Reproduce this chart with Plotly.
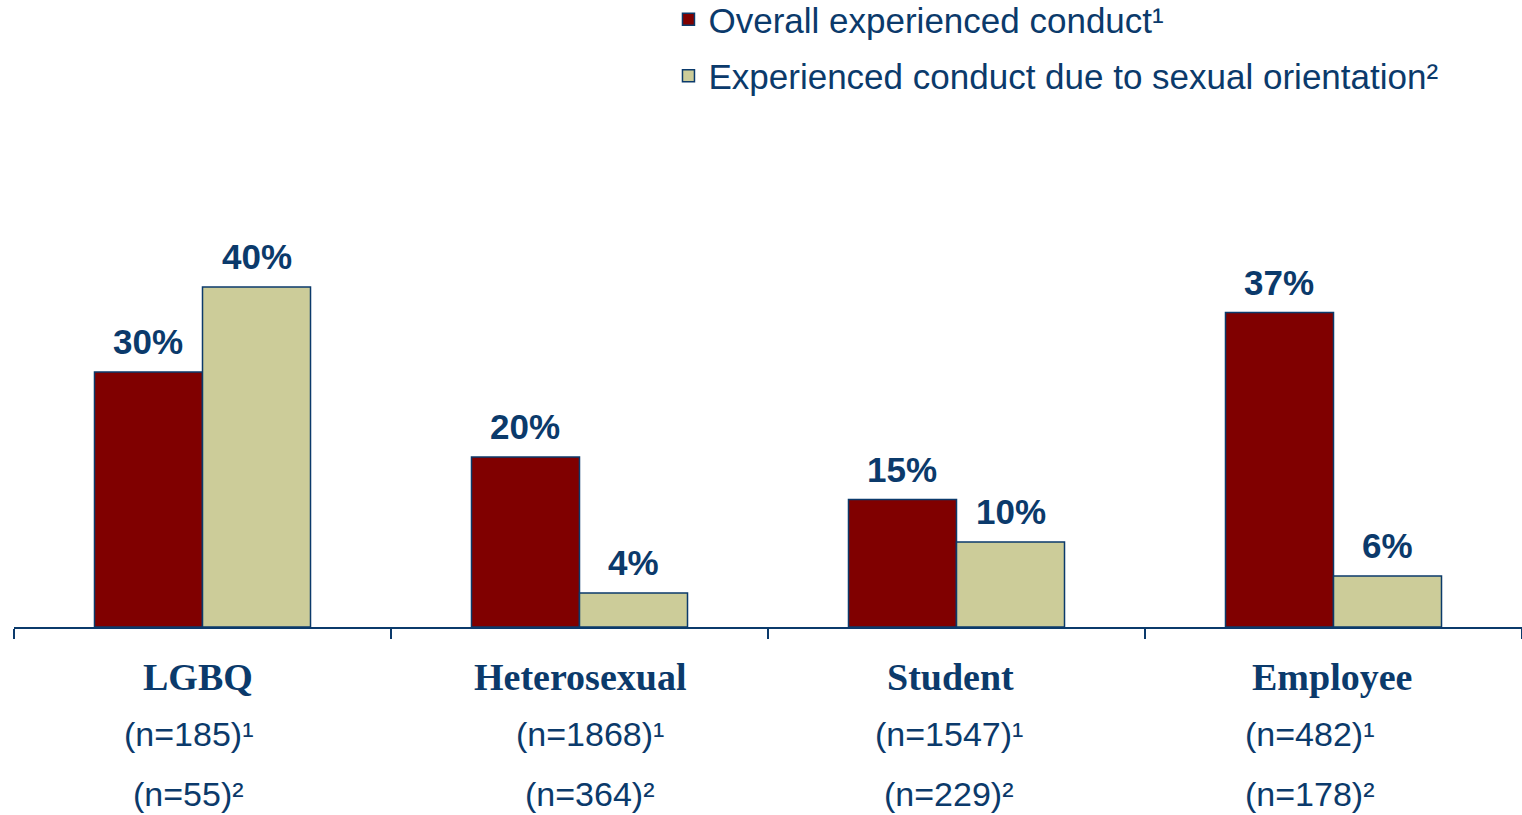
import plotly.graph_objects as go

categories = ["LGBQ", "Heterosexual", "Student", "Employee"]
overall = [30, 20, 15, 37]
due_to_orientation = [40, 4, 10, 6]
n_overall = ["(n=185)¹", "(n=1868)¹", "(n=1547)¹", "(n=482)¹"]
n_orientation = ["(n=55)²", "(n=364)²", "(n=229)²", "(n=178)²"]
series_names = ["Overall experienced conduct¹", "Experienced conduct due to sexual orientation²"]

NAVY = "#0b3a6b"
RED = "#800000"
BEIGE = "#cccc99"

W, H = 1522, 815
ML, MR, MT, MB = 14, 0, 117, 188
BARGAP = 0.427

fig = go.Figure()
series = [(series_names[0], overall, RED, "a"),
          (series_names[1], due_to_orientation, BEIGE, "b")]
for name, vals, col, grp in series:
    fig.add_trace(go.Bar(
        x=categories, y=vals, name=name, legendgroup=grp,
        marker=dict(color=col, line=dict(color=NAVY, width=1.5)),
        cliponaxis=False,
    ))

# value labels above bars
cat_px = (W - ML - MR) / len(categories)
bar_px = cat_px * (1 - BARGAP) / 2
offsets = [-bar_px / 2, bar_px / 2]
for (name, vals, col, grp), off in zip(series, offsets):
    for c, v in zip(categories, vals):
        fig.add_annotation(x=c, y=v, xref="x", yref="y", text=f"<b>{v}%</b>",
                           showarrow=False, xshift=off, yanchor="bottom", yshift=9,
                           font=dict(family="Liberation Sans, Arial", size=35, color=NAVY))

# category labels and sample sizes below axis
name_shift = [-5, 0, -6, -2]
n_shift = [-14, 10, -8, -24]
for i, c in enumerate(categories):
    fig.add_annotation(x=c, y=-0.098, xref="x", yref="paper", text=f"<b>{c}</b>",
                       showarrow=False, xshift=name_shift[i], yanchor="middle",
                       font=dict(family="Liberation Serif, Times New Roman", size=38, color=NAVY))
    fig.add_annotation(x=c, y=-0.21, xref="x", yref="paper", text=n_overall[i],
                       showarrow=False, xshift=n_shift[i], yanchor="middle",
                       font=dict(family="Liberation Sans, Arial", size=34, color=NAVY))
    fig.add_annotation(x=c, y=-0.328, xref="x", yref="paper", text=n_orientation[i],
                       showarrow=False, xshift=n_shift[i], yanchor="middle",
                       font=dict(family="Liberation Sans, Arial", size=34, color=NAVY))

fig.update_layout(
    width=W, height=H,
    margin=dict(l=ML, r=MR, t=MT, b=MB, autoexpand=False),
    paper_bgcolor="white", plot_bgcolor="white",
    barmode="group", bargap=BARGAP, bargroupgap=0,
    showlegend=True,
    legend=dict(x=0.434, y=1.249, xanchor="left", yanchor="top",
                font=dict(family="Liberation Sans, Arial", size=35, color=NAVY),
                tracegroupgap=8, bgcolor="rgba(0,0,0,0)"),
    xaxis=dict(showline=True, linecolor=NAVY, linewidth=1.5, showticklabels=False,
               ticks="outside", tickson="boundaries", ticklen=10, tickcolor=NAVY,
               tickwidth=1.5, showgrid=False, zeroline=False),
    yaxis=dict(range=[0, 60], visible=False, showgrid=False, zeroline=False),
)

fig.write_html("out.html", config={"displayModeBar": False},
               post_script="document.body.style.margin='0px';document.body.style.overflow='hidden';")
